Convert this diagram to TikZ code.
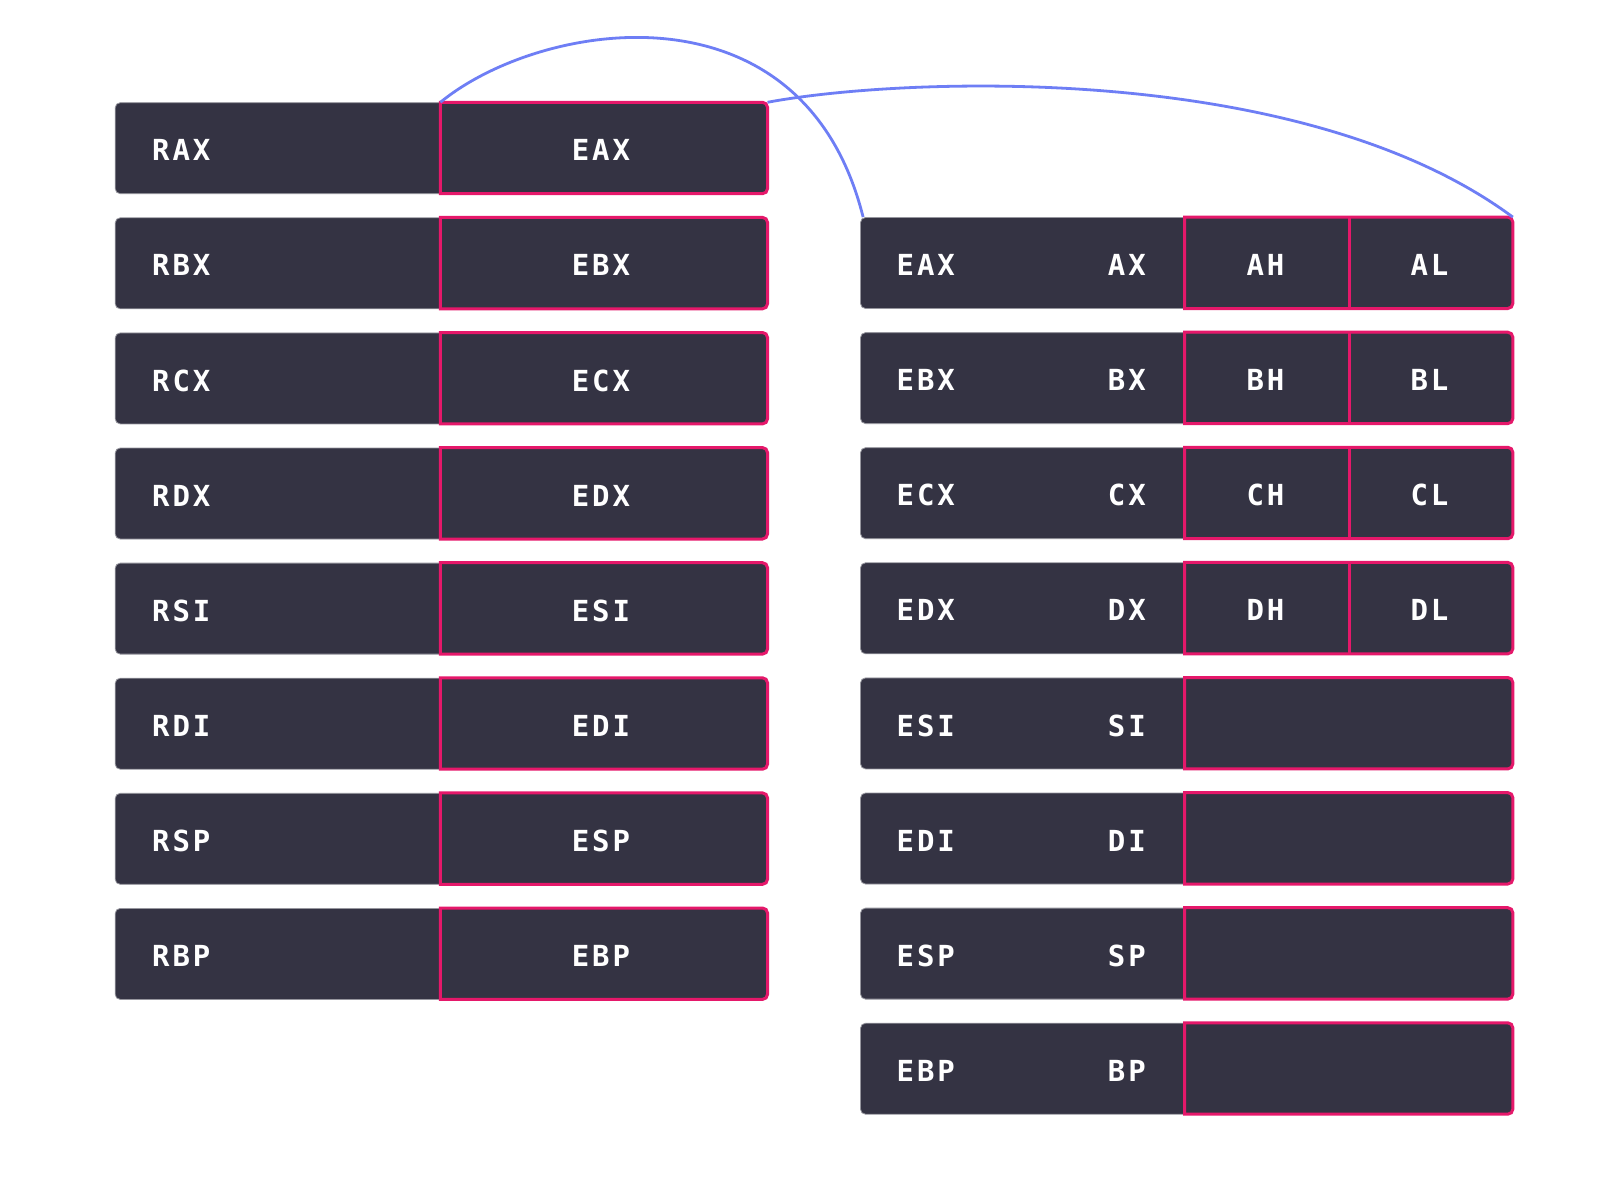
\documentclass[tikz,border=0pt]{standalone}
\usepackage{fontspec}
\newfontfamily\regfont[LetterSpace=10]{DejaVu Sans Mono}
\definecolor{boxfill}{RGB}{52,51,67}
\definecolor{boxedge}{RGB}{150,150,158}
\definecolor{hot}{RGB}{229,24,106}
\definecolor{linkblue}{RGB}{110,126,245}
\tikzset{
  regbox/.style={fill=boxfill, draw=boxedge, line width=0.8pt, rounded corners=5pt,
    minimum height=91pt, inner sep=0pt, anchor=north west},
  hotcell/.style={minimum height=91pt, inner sep=0pt, anchor=north west},
  hotline/.style={draw=hot, line width=3pt},
  regtext/.style={text=white, inner sep=0pt, font=\regfont\bfseries\fontsize{29}{29}\selectfont},
  link/.style={draw=linkblue, line width=2.8pt}
}
\begin{document}
\begin{tikzpicture}[x=1pt,y=-1pt]
\fill[white] (0,0) rectangle (1621,1190);
\useasboundingbox (0,0) rectangle (1621,1190);
% left column: 64-bit registers
\foreach \r/\e [count=\i from 0] in {RAX/EAX,RBX/EBX,RCX/ECX,RDX/EDX,RSI/ESI,RDI/EDI,RSP/ESP,RBP/EBP}{
  \pgfmathsetmacro\ty{102.3+115.1*\i}
  \node[regbox, minimum width=652.3pt] (L\i) at (114.8,\ty) {};
  \node[hotcell, minimum width=326.7pt] (LE\i) at (440.4,\ty) {};
  \draw[hotline] (LE\i.north west) [rounded corners=5pt] -- (LE\i.north east) -- (LE\i.south east) [sharp corners] -- (LE\i.south west) -- cycle;
  \node[regtext, anchor=west] (LR\i) at (152,\ty+48) {\r};
  \node[regtext] (LT\i) at (601,\ty+48) {\e};
}
% right column: 32-bit registers
\foreach \e/\x [count=\i from 0] in {EAX/AX,EBX/BX,ECX/CX,EDX/DX,ESI/SI,EDI/DI,ESP/SP,EBP/BP}{
  \pgfmathsetmacro\ty{217.1+115.1*\i}
  \node[regbox, minimum width=652.3pt] (R\i) at (860.1,\ty) {};
  \node[hotcell, minimum width=327.7pt] (RE\i) at (1184.7,\ty) {};
  \draw[hotline] (RE\i.north west) [rounded corners=5pt] -- (RE\i.north east) -- (RE\i.south east) [sharp corners] -- (RE\i.south west) -- cycle;
  \node[regtext, anchor=west] (RT\i) at (896.5,\ty+48) {\e};
  \node[regtext, anchor=east] (RX\i) at (1146,\ty+48) {\x};
}
% 8-bit halves
\foreach \h/\l [count=\i from 0] in {AH/AL,BH/BL,CH/CL,DH/DL}{
  \pgfmathsetmacro\ty{217.1+115.1*\i}
  \node[hotcell, minimum width=164.4pt] (RH\i) at (1184.7,\ty) {};
  \node[hotcell, minimum width=163.3pt] (RL\i) at (1349.1,\ty) {};
  \draw[hotline] (RL\i.north west) -- (RL\i.south west);
  \node[regtext] (RHT\i) at (1265.5,\ty+48) {\h};
  \node[regtext] (RLT\i) at (1429.5,\ty+48) {\l};
}
% connectors
\draw[link] (LE0.north west) .. controls +(100,-82) and +(-60,-240) .. ([xshift=3pt]R0.north west);
\draw[link] (LE0.north east) .. controls +(133,-25) and +(-212,-157) .. (RL0.north east);
\end{tikzpicture}
\end{document}
